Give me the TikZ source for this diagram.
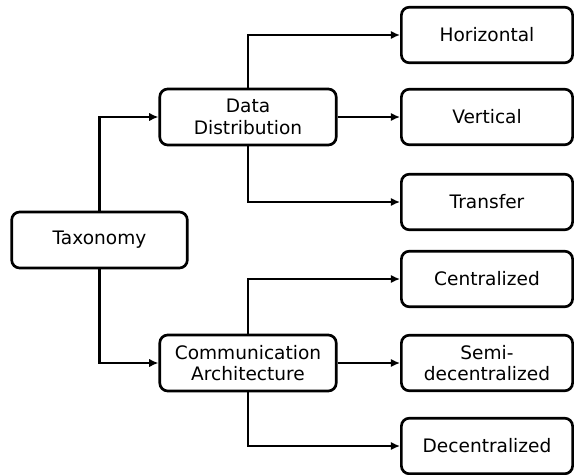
\documentclass[tikz,border=0pt]{standalone}
\usepackage{fontspec}
\setmainfont{DejaVu Sans}
\usetikzlibrary{arrows.meta}

\tikzset{
  every box/.style={draw, line width=1.9pt, rounded corners=0.2cm, align=center,
    inner sep=1pt, font=\fontsize{13.2}{15.2}\selectfont},
  root box/.style={every box, minimum width=4.39cm, minimum height=1.4cm},
  mid box/.style={every box, minimum width=4.41cm, minimum height=1.4cm},
  leaf box/.style={every box, minimum width=4.28cm, minimum height=1.39cm},
  link/.style={->, line width=1.5pt}
}

\begin{document}
\begin{tikzpicture}[x=0.025cm, y=-0.025cm, >={Latex[length=2.3mm,width=2.1mm]}]

  \useasboundingbox (0,0) rectangle (574,475);

  \node [root box] (taxonomy) at (99.5,240) {Taxonomy};

  \node [mid box] (data) at (248,117) {Data\\Distribution};
  \node [mid box] (comm) at (248,363) {Communication\\Architecture};

  \foreach \m/\l/\y in {horizontal/{Horizontal}/35, vertical/{Vertical}/117,
      transfer/{Transfer}/202, centralized/{Centralized}/279,
      semi/{Semi-\\decentralized}/363, decentralized/{Decentralized}/446}
    \node [leaf box] (\m) at (487,\y) {\l};

  \draw [link] (taxonomy.north) |- (data.west);
  \draw [link] (taxonomy.south) |- (comm.west);

  \draw [link] (data.north) |- (horizontal.west);
  \draw [link] (data.east) -- (vertical.west);
  \draw [link] (data.south) |- (transfer.west);

  \draw [link] (comm.north) |- (centralized.west);
  \draw [link] (comm.east) -- (semi.west);
  \draw [link] (comm.south) |- (decentralized.west);

\end{tikzpicture}
\end{document}
